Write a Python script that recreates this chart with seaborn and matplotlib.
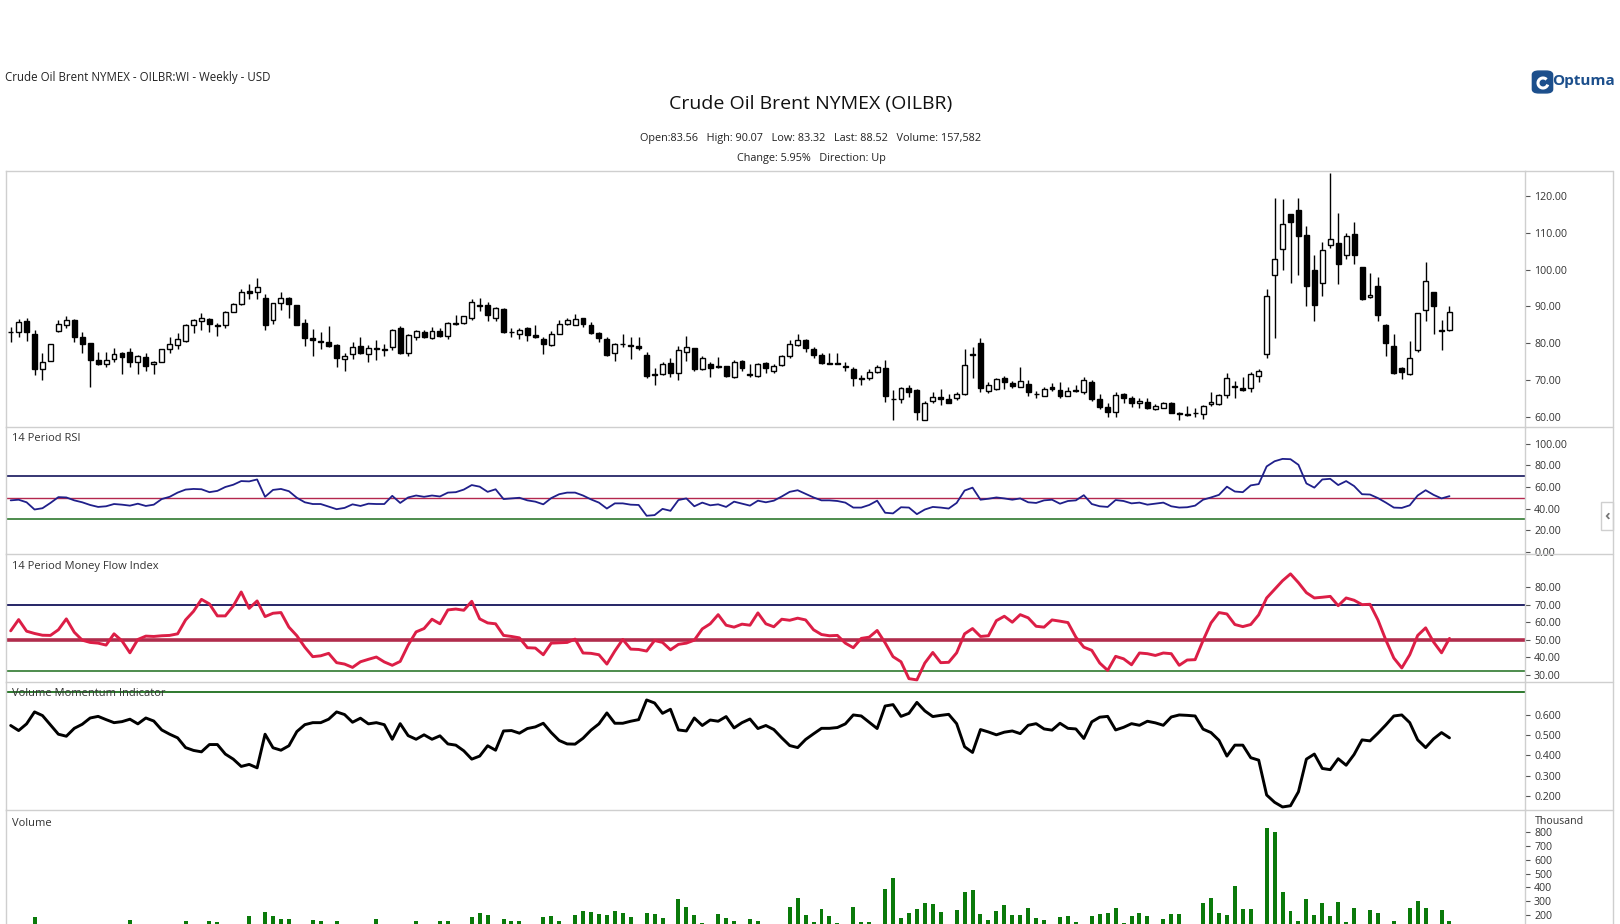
import numpy as np
import pandas as pd
import matplotlib
matplotlib.use("Agg")
import matplotlib.pyplot as plt
from matplotlib.patches import Rectangle, FancyBboxPatch, Arc
from matplotlib.lines import Line2D
import seaborn as sns

# ---------------- data ----------------
opens = [82.9,82.9,86.0,82.5,72.9,75.1,83.2,84.9,86.3,81.7,80.0,75.4,74.3,75.7,77.4,77.6,74.8,76.2,74.3,75.0,
         78.3,79.4,80.7,84.9,86.0,86.6,84.9,84.9,88.6,90.6,94.2,93.9,92.2,86.2,90.8,92.3,90.4,85.4,81.3,80.5,
         80.2,79.5,75.6,77.1,79.2,77.0,78.6,78.4,78.9,84.0,77.4,81.7,83.1,81.5,83.4,82.0,85.2,85.4,86.7,90.4,
         90.3,86.9,89.3,83.0,82.6,84.0,82.2,81.0,79.4,82.5,85.1,84.9,86.7,84.9,82.7,81.0,77.2,79.9,79.4,79.1,
         76.8,71.5,71.7,74.6,71.8,77.7,78.6,72.9,74.2,73.7,73.7,70.8,75.1,71.5,71.0,74.5,72.4,74.0,76.4,79.4,
         80.8,78.4,76.7,74.6,74.6,73.8,72.9,70.5,70.4,72.1,73.2,64.9,64.7,67.8,67.3,59.1,64.2,65.3,64.7,65.1,
         66.3,77.1,80.0,66.9,67.5,70.4,69.2,68.2,68.8,66.3,65.7,68.0,67.3,65.6,67.3,66.6,69.4,64.7,62.6,61.2,
         66.1,65.1,63.6,63.9,62.2,62.5,63.7,60.9,60.6,60.9,60.8,63.4,63.4,65.8,68.4,67.7,67.9,71.0,77.0,98.4,
         105.5,115.0,116.1,109.3,99.8,96.3,106.6,107.1,103.9,109.7,100.6,92.5,95.5,85.0,79.2,73.2,71.5,78.0,88.9,93.8,
         83.5,83.56]
highs = [84.5,86.5,86.7,83.6,77.4,79.8,86.3,87.5,86.5,83.0,80.0,77.6,77.6,78.7,77.6,78.7,76.8,77.4,75.2,78.5,
         81.7,82.7,85.2,86.5,88.1,86.7,85.6,88.8,91.0,94.6,96.1,97.7,93.3,91.0,93.8,92.5,90.4,86.5,83.9,83.0,
         84.7,79.8,77.4,80.4,81.7,79.5,80.8,79.8,83.8,84.7,82.6,83.6,83.5,84.3,84.1,85.8,87.7,87.5,91.9,92.4,
         91.3,89.8,89.5,84.2,84.0,84.5,85.0,81.7,83.2,86.2,86.9,87.9,86.9,85.7,83.1,81.6,80.0,82.5,81.8,81.7,
         77.5,73.2,75.0,75.9,79.2,82.0,78.8,76.5,74.9,76.2,73.9,75.4,75.4,74.2,74.5,75.0,74.3,76.8,80.8,82.5,
         81.1,78.9,77.4,77.3,77.2,75.0,73.4,71.4,72.9,74.0,75.4,67.3,68.0,68.5,67.5,64.2,66.6,67.5,66.1,66.6,
         78.4,78.9,81.3,69.3,70.4,71.2,69.6,73.5,70.0,67.0,68.1,69.2,69.4,68.1,68.5,70.8,70.0,66.3,63.8,66.6,
         66.4,65.5,65.1,65.1,63.4,63.9,63.9,61.2,62.8,62.3,63.2,66.7,66.1,71.9,69.8,70.8,72.2,72.9,94.6,119.4,
         119.1,115.2,119.4,111.9,103.9,107.4,126.2,115.3,109.9,112.9,100.8,99.0,98.1,85.2,82.5,73.4,80.5,88.3,102.1,94.0,
         86.3,90.07]
lows = [80.4,81.8,80.6,71.4,70.0,75.1,83.0,84.0,80.4,77.4,68.2,74.1,73.6,74.8,71.7,73.6,71.7,72.3,71.7,74.8,
        77.4,78.3,80.4,82.7,83.5,83.1,82.0,84.0,88.4,90.4,91.9,91.9,83.7,85.3,89.1,86.7,84.8,79.3,76.6,78.5,
        78.9,73.6,72.3,75.8,77.0,75.0,75.4,76.6,78.2,77.0,76.6,80.8,81.5,81.2,81.8,81.2,85.0,85.3,86.4,88.8,
        86.0,85.9,82.7,81.8,81.1,80.7,81.3,77.0,79.3,82.4,84.8,84.8,84.3,82.5,80.2,76.6,75.2,78.9,75.7,78.0,
        70.6,68.7,71.4,70.9,70.0,75.2,72.5,72.7,70.9,73.3,70.9,70.6,72.3,70.9,70.9,71.8,72.0,73.9,76.0,79.3,
        77.6,76.0,74.3,74.3,74.3,72.4,68.4,68.7,70.0,72.0,64.1,59.1,63.8,65.3,59.1,59.0,63.7,63.3,63.7,64.5,
        66.0,70.6,66.8,66.4,67.3,67.6,67.9,68.1,65.5,65.0,65.6,66.9,65.1,65.5,66.6,66.1,64.2,62.2,60.0,60.0,
        63.8,62.7,62.5,62.0,61.7,62.3,60.9,59.1,60.3,59.9,59.5,62.8,63.3,65.0,65.1,67.0,66.8,69.4,75.9,81.3,
        99.8,96.4,98.6,90.2,86.1,92.8,106.0,96.2,102.9,101.4,91.6,92.4,85.9,76.6,71.7,70.2,71.4,77.5,86.1,82.6,
        78.2,83.32]
closes = [83.0,85.7,82.9,73.1,74.9,79.8,85.2,86.2,81.8,79.7,75.3,74.3,75.4,77.1,76.2,75.0,76.4,73.9,74.9,78.3,
          79.8,81.0,84.9,86.2,86.8,85.1,84.6,88.4,90.6,93.8,93.5,95.3,84.8,90.8,92.3,90.6,84.9,81.5,80.8,80.4,
          79.1,75.9,76.4,78.9,77.2,78.6,78.3,78.0,83.5,77.4,82.2,83.4,81.7,83.4,82.0,85.4,85.5,87.3,91.1,90.2,
          87.6,89.5,82.9,82.9,83.7,82.3,81.8,79.7,82.5,85.1,86.2,86.5,85.1,82.7,81.3,76.9,79.7,79.7,79.1,78.8,
          71.1,71.3,74.3,72.0,78.1,78.9,73.0,75.9,73.2,73.5,71.2,75.0,73.2,71.3,74.2,73.2,73.9,76.4,79.7,80.8,
          78.6,76.9,74.7,74.4,74.4,73.4,70.4,70.2,72.1,73.4,65.7,64.7,67.7,66.8,61.4,63.6,65.3,64.9,63.8,66.3,
          74.0,76.7,67.8,68.5,70.3,69.3,68.4,69.7,66.6,66.1,67.4,67.6,65.5,66.9,67.0,69.9,64.7,62.7,61.4,65.8,
          65.2,63.6,64.3,62.5,63.0,63.7,61.1,60.6,60.4,61.0,63.0,63.9,65.8,70.4,68.2,67.3,71.5,72.4,92.7,103.0,
          112.4,112.8,109.2,95.4,90.5,105.3,108.2,101.4,109.2,103.9,92.1,93.1,87.6,80.0,72.0,72.1,75.9,88.1,96.8,90.2,
          83.2,88.52]

rsi = [47.6,48.2,45.8,39.1,40.3,45.2,50.6,50.3,47.6,45.8,43.3,41.5,42.1,44.2,43.6,42.7,44.5,42.4,43.6,48.8,
       50.9,54.8,57.6,58.2,57.9,55.2,56.4,60.0,62.1,65.5,65.2,67.0,50.9,57.3,58.2,56.1,50.0,45.8,44.2,44.2,
       41.8,39.4,40.6,43.9,42.4,44.5,44.2,44.2,51.8,45.2,50.3,52.1,50.9,52.1,51.2,54.8,55.2,57.6,61.8,60.3,
       55.5,57.9,48.8,49.4,50.0,47.6,46.4,43.9,49.7,53.3,54.8,54.8,52.1,48.5,45.5,40.0,44.8,44.8,43.6,43.3,
       33.3,33.9,39.7,37.9,47.9,49.4,42.1,45.5,43.0,43.9,41.5,46.4,44.5,42.7,47.3,45.8,47.3,51.2,55.5,57.0,
       53.6,50.3,47.6,47.6,47.0,45.5,40.9,40.9,43.3,47.3,36.1,35.5,41.2,40.9,34.8,39.1,41.5,40.9,40.0,45.2,
       56.7,59.4,48.2,49.1,50.3,49.4,48.2,49.4,45.8,45.2,47.6,48.2,44.5,47.0,47.6,52.4,44.2,42.1,41.5,47.9,
       47.0,44.8,45.5,43.6,44.5,45.5,42.1,40.9,41.2,42.7,48.2,50.3,52.7,60.3,55.8,55.2,61.5,62.7,79.1,83.9,
       86.1,85.8,80.6,63.3,59.4,67.0,67.6,61.8,65.5,60.9,53.3,53.0,49.7,45.5,40.9,40.6,43.0,52.1,57.0,52.7,
       49.4,51.5]

mfi = [55.1,61.5,54.9,53.6,52.6,52.5,55.7,61.9,54.3,49.8,48.5,48.1,47.0,53.4,49.4,42.6,50.2,52.1,51.9,52.3,
       52.5,53.4,61.3,66.2,73.0,70.4,63.6,63.6,69.2,77.2,67.9,72.1,63.2,65.1,65.5,57.2,52.3,45.8,40.4,40.9,
       42.3,37.0,36.2,34.3,37.5,38.9,40.2,37.4,35.5,37.7,47.0,54.5,56.4,61.7,59.1,67.0,67.5,66.8,71.9,61.9,
       59.6,59.1,52.5,51.9,51.1,45.5,45.3,41.5,48.1,48.3,48.5,50.4,42.5,42.3,41.5,36.2,43.6,50.2,44.7,44.5,
       43.6,49.6,48.5,44.3,47.4,48.1,49.8,56.2,59.1,64.3,58.3,57.2,58.9,58.3,65.3,59.1,57.4,61.7,61.1,62.3,
       61.3,55.7,53.0,52.3,52.5,48.1,45.5,50.8,51.5,55.3,48.3,40.4,37.5,27.9,27.2,36.8,42.8,37.0,37.2,42.6,
       53.4,56.4,51.9,52.3,60.9,63.4,60.0,64.3,62.5,57.7,57.2,61.3,60.6,59.8,51.5,45.8,44.0,36.8,32.6,40.6,
       39.2,35.8,42.5,42.1,41.1,42.5,42.1,35.5,38.5,38.7,49.6,59.6,65.5,64.7,58.7,57.5,58.7,64.2,73.8,78.7,
       83.6,87.5,82.5,76.8,73.8,74.2,74.7,69.4,73.8,72.5,70.0,70.2,61.3,49.8,39.6,34.0,41.5,52.5,56.8,48.7,
       42.6,50.8]

vmi = [0.548,0.523,0.556,0.615,0.597,0.551,0.505,0.495,0.534,0.554,0.585,0.593,0.577,0.562,0.567,0.579,0.556,0.585,0.570,0.526,
       0.505,0.487,0.439,0.425,0.418,0.454,0.454,0.407,0.382,0.346,0.356,0.339,0.505,0.438,0.426,0.448,0.518,0.552,0.562,0.562,
       0.579,0.615,0.602,0.564,0.584,0.556,0.562,0.552,0.480,0.557,0.498,0.480,0.502,0.480,0.497,0.457,0.451,0.423,0.382,0.397,
       0.448,0.426,0.521,0.523,0.510,0.533,0.541,0.559,0.513,0.474,0.457,0.456,0.485,0.525,0.556,0.610,0.559,0.559,0.569,0.577,
       0.674,0.659,0.608,0.628,0.526,0.521,0.585,0.548,0.575,0.569,0.592,0.536,0.562,0.580,0.533,0.548,0.528,0.487,0.449,0.439,
       0.479,0.507,0.534,0.534,0.538,0.556,0.600,0.595,0.564,0.533,0.644,0.651,0.593,0.608,0.662,0.620,0.592,0.598,0.603,0.557,
       0.443,0.415,0.528,0.516,0.502,0.515,0.521,0.508,0.549,0.557,0.531,0.525,0.559,0.534,0.531,0.484,0.566,0.589,0.593,0.526,
       0.539,0.557,0.549,0.569,0.561,0.549,0.590,0.600,0.598,0.595,0.530,0.513,0.475,0.397,0.451,0.451,0.389,0.377,0.205,0.169,
       0.146,0.152,0.221,0.382,0.407,0.336,0.330,0.384,0.352,0.405,0.477,0.472,0.510,0.551,0.595,0.600,0.562,0.477,0.439,0.482,
       0.513,0.487]

volume_k = [118,105,112,186,125,110,98,104,121,115,108,127,102,111,119,166,106,113,99,122,
            117,128,157,124,116,154,149,126,119,130,190,128,222,190,173,173,131,125,161,154,
            129,159,122,118,127,112,169,109,124,115,130,159,120,126,159,159,118,128,186,214,
            198,131,173,154,154,128,122,186,190,157,130,198,227,222,207,202,229,214,186,127,
            214,207,178,126,316,258,200,145,129,207,178,157,124,171,157,121,118,130,258,323,
            200,149,243,193,145,128,258,149,149,131,388,467,178,214,243,287,280,222,132,236,
            366,381,207,164,229,272,200,200,251,178,164,130,186,193,149,128,193,207,214,251,
            142,193,214,193,127,171,207,207,124,131,287,323,214,200,410,243,243,133,829,800,
            366,229,157,316,200,287,193,294,149,251,130,236,214,128,157,132,251,301,251,131,
            236,157.6]

price_ticks = [60, 70, 80, 90, 100, 110, 120]
rsi_ticks = [0, 20, 40, 60, 80, 100]
mfi_ticks = [30, 40, 50, 60, 70, 80]
vmi_ticks = [0.2, 0.3, 0.4, 0.5, 0.6]
vol_ticks = [200, 300, 400, 500, 600, 700, 800]

# ---------------- style ----------------
sns.set_theme(style="white")
plt.rcParams["font.family"] = ["Open Sans", "DejaVu Sans"]

W, H = 1620, 924
fig = plt.figure(figsize=(W / 100, H / 100), dpi=100)
fig.patch.set_facecolor("white")

X0, X1 = 6, 1525
def rect(top, bottom):
    return [X0 / W, 1 - bottom / H, (X1 - X0) / W, (bottom - top) / H]

ax_p = fig.add_axes(rect(171, 427))
ax_r = fig.add_axes(rect(427, 554), sharex=ax_p)
ax_m = fig.add_axes(rect(554, 682), sharex=ax_p)
ax_v = fig.add_axes(rect(682, 810), sharex=ax_p)
ax_q = fig.add_axes(rect(810, 924), sharex=ax_p)
axes = [ax_p, ax_r, ax_m, ax_v, ax_q]

n = len(closes)
idx = np.arange(n)
df = pd.DataFrame({"i": idx, "open": opens, "high": highs, "low": lows, "close": closes,
                   "rsi": rsi, "mfi": mfi, "vmi": vmi, "vol": volume_k})

# ---------------- candles ----------------
ax_p.vlines(df["i"], df["low"], df["high"], color="black", lw=1.0, zorder=1)
up = df["close"] >= df["open"]
body_lo = np.minimum(df["open"], df["close"])
body_h = np.maximum(np.abs(df["close"] - df["open"]), 0.18)
ax_p.bar(df["i"][up], body_h[up], bottom=body_lo[up], width=0.62,
         facecolor="white", edgecolor="black", linewidth=1.0, zorder=2)
ax_p.bar(df["i"][~up], body_h[~up], bottom=body_lo[~up], width=0.62,
         facecolor="black", edgecolor="black", linewidth=1.0, zorder=2)
ax_p.set_ylim(57.2, 126.8)
ax_p.set_yticks(price_ticks)
ax_p.set_yticklabels([f"{t:.2f}" for t in price_ticks])

# ---------------- RSI ----------------
ax_r.axhline(70, color="#00004d", lw=1.1, zorder=1)
ax_r.axhline(50, color="#b4284e", lw=1.0, zorder=1)
ax_r.axhline(30, color="#1d6e1d", lw=1.1, zorder=1)
sns.lineplot(data=df, x="i", y="rsi", ax=ax_r, color="#1f1f8a", lw=1.3, estimator=None, zorder=3)
ax_r.set_ylim(-2.2, 115.7)
ax_r.set_yticks(rsi_ticks)
ax_r.set_yticklabels([f"{t:.2f}" for t in rsi_ticks])

# ---------------- MFI ----------------
ax_m.axhline(70, color="#00004d", lw=1.2, zorder=1)
ax_m.axhline(50, color="#b02c4c", lw=2.6, zorder=1)
ax_m.axhline(32.1, color="#1d6e1d", lw=1.1, zorder=1)
sns.lineplot(data=df, x="i", y="mfi", ax=ax_m, color="#dc1e46", lw=2.1, estimator=None, zorder=3)
ax_m.set_ylim(26.0, 98.8)
ax_m.set_yticks(mfi_ticks)
ax_m.set_yticklabels([f"{t:.2f}" for t in mfi_ticks])

# ---------------- Volume Momentum ----------------
ax_v.axhline(0.711, color="#1d6e1d", lw=1.3, zorder=1)
sns.lineplot(data=df, x="i", y="vmi", ax=ax_v, color="black", lw=2.1, estimator=None, zorder=3)
ax_v.set_ylim(0.131, 0.7626)
ax_v.set_yticks(vmi_ticks)
ax_v.set_yticklabels([f"{t:.3f}" for t in vmi_ticks])

# ---------------- Volume ----------------
ax_q.bar(df["i"], df["vol"], width=0.5, color="#0a7a0a", linewidth=0)
ax_q.set_ylim(135, 959)
ax_q.set_yticks(vol_ticks)
ax_q.set_yticklabels([f"{t:d}" for t in vol_ticks])

# ---------------- common axes styling ----------------
for ax in axes:
    ax.set_xlim(-0.59, 190.5)
    ax.set_facecolor("white")
    ax.set_xlabel("")
    ax.set_ylabel("")
    ax.grid(False)
    ax.yaxis.tick_right()
    ax.tick_params(axis="x", which="both", bottom=False, labelbottom=False, top=False)
    ax.tick_params(axis="y", which="both", direction="out", length=3.5, width=0.8,
                   color="#555555", labelsize=7.6, labelcolor="#333333", pad=3,
                   left=False, right=True, labelleft=False, labelright=True)
    for s in ax.spines.values():
        s.set_color("#cfcfcf")
        s.set_linewidth(1.0)
    ax.spines["bottom"].set_visible(False)

# panel labels
lab_kw = dict(fontsize=8, color="#333333", va="center", ha="left")
fig.text(12 / W, 1 - 439 / H, "14 Period RSI", **lab_kw)
fig.text(12 / W, 1 - 567 / H, "14 Period Money Flow Index", **lab_kw)
fig.text(12 / W, 1 - 694 / H, "Volume Momentum Indicator", **lab_kw)
fig.text(12 / W, 1 - 823 / H, "Volume", **lab_kw)
fig.text(1535 / W, 1 - 822 / H, "Thousand", fontsize=7.6, color="#333333", va="center", ha="left")

# outer frame of the right axis strip
for yy in [171, 427, 554, 682, 810]:
    fig.add_artist(Line2D([X1 / W, 1613 / W], [1 - yy / H, 1 - yy / H],
                          transform=fig.transFigure, color="#cfcfcf", lw=1.0))
fig.add_artist(Line2D([1613 / W, 1613 / W], [1 - 171 / H, 0],
                      transform=fig.transFigure, color="#cfcfcf", lw=1.0))
# collapse button
fig.add_artist(Rectangle((1601 / W, 1 - 530 / H), 12 / W, 28 / H, transform=fig.transFigure,
                         facecolor="white", edgecolor="#cfcfcf", lw=1.0))
fig.text(1607 / W, 1 - 516 / H, "‹", fontsize=11, fontweight="bold", color="#777777",
         ha="center", va="center")

# header texts
fig.text(5 / W, 1 - 77 / H, "Crude Oil Brent NYMEX - OILBR:WI - Weekly - USD",
         fontsize=8.3, color="#222222", ha="left", va="center")
fig.text(811 / W, 1 - 104 / H, "Crude Oil Brent NYMEX (OILBR)",
         fontsize=14, color="#111111", ha="center", va="center")
fig.text(811 / W, 1 - 138 / H,
         "Open:83.56   High: 90.07   Low: 83.32   Last: 88.52   Volume: 157,582",
         fontsize=7.8, color="#222222", ha="center", va="center")
fig.text(811 / W, 1 - 158 / H, "Change: 5.95%   Direction: Up",
         fontsize=7.8, color="#222222", ha="center", va="center")

# Optuma logo
logo_c = "#1c4f8c"
fig.add_artist(FancyBboxPatch((1534 / W, 1 - 92 / H), 17 / W, 20 / H,
                              boxstyle="round,pad=0.001,rounding_size=0.004",
                              transform=fig.transFigure, facecolor=logo_c, edgecolor=logo_c))
fig.add_artist(Arc((1543 / W, 1 - 83 / H), 10 / W, 10 / H, theta1=60, theta2=330,
                   transform=fig.transFigure, color="white", lw=2.2))
fig.text(1552 / W, 1 - 81 / H, "Optuma", fontsize=11, fontweight="bold", color=logo_c,
         ha="left", va="center")

fig.savefig("out.png", dpi=100, facecolor="white")
